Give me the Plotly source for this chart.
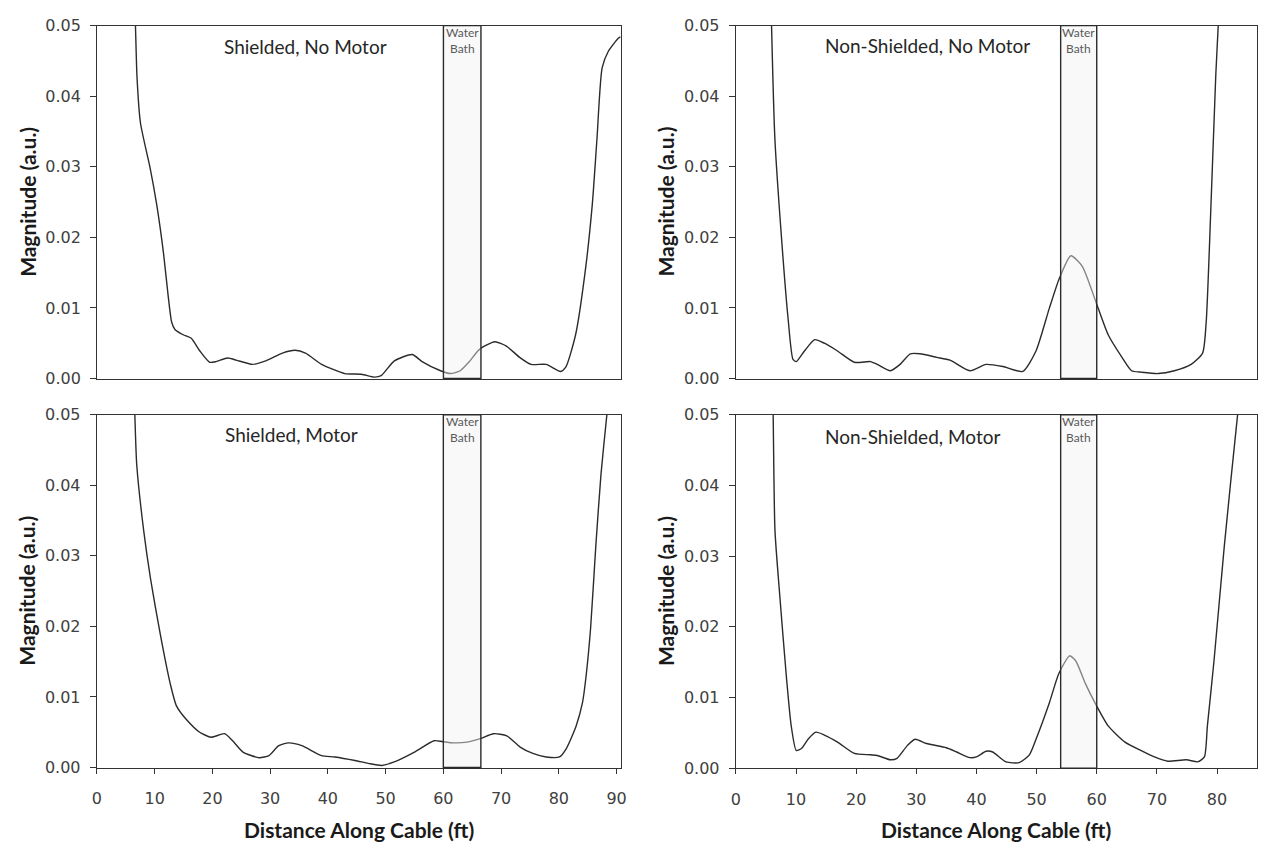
import plotly.graph_objects as go

# ---- measured reflection magnitude along the cable (distance in ft, magnitude in a.u.) ----
shielded_no_motor_x = [6.3, 6.63, 6.9, 7.5, 9.2, 10.3, 11.5, 12.3, 12.9, 13.5, 14.9, 16.3, 17.8, 19.5,
                       20.6, 22.6, 24.1, 26.9, 29.2, 32.1, 34.3, 36.1, 38.9, 42.9, 45.8, 48.1, 49.2,
                       51.5, 54.6, 56.3, 59.5, 61.2, 62.9, 64.6, 66.2, 68.9, 70.9, 73.2, 75.2, 77.8,
                       80.3, 81.2, 82.9, 84.6, 85.8, 86.6, 87.5, 88.6, 90.3, 90.7]
shielded_no_motor_y = [0.058, 0.050, 0.0427, 0.0362, 0.0297, 0.0247, 0.0177, 0.0117, 0.0080, 0.0069,
                       0.0062, 0.0057, 0.0039, 0.0023, 0.0024, 0.0029, 0.0026, 0.0020, 0.0025, 0.0036,
                       0.0040, 0.0036, 0.0020, 0.0007, 0.0006, 0.0002, 0.0004, 0.0025, 0.0034, 0.0024,
                       0.0011, 0.0007, 0.0011, 0.0025, 0.0041, 0.0052, 0.0046, 0.0030, 0.0020, 0.0020,
                       0.0010, 0.0016, 0.0062, 0.0154, 0.0247, 0.0339, 0.0440, 0.0464, 0.0482, 0.0484]

nonshielded_no_motor_x = [5.7, 5.93, 6.49, 7.58, 8.68, 9.5, 10.05, 11.4, 13.1, 14.7, 16.9, 19.7, 22.4,
                          23.5, 25.7, 27.3, 29.0, 30.6, 33.4, 35.6, 38.9, 41.6, 44.4, 47.7, 49.9, 52.1,
                          53.7, 55.7, 57.6, 59.8, 61.9, 64.2, 65.8, 67.4, 70.2, 72.9, 75.7, 77.6, 78.2,
                          79.0, 79.8, 80.2, 80.4]
nonshielded_no_motor_y = [0.060, 0.050, 0.0339, 0.0200, 0.0085, 0.0027, 0.0024, 0.0039, 0.0055, 0.0050,
                          0.0039, 0.0023, 0.0024, 0.0020, 0.0011, 0.0020, 0.0035, 0.0035, 0.0030, 0.0026,
                          0.0011, 0.0020, 0.0017, 0.0010, 0.0039, 0.0099, 0.0140, 0.0174, 0.0159, 0.0110,
                          0.0062, 0.0030, 0.0011, 0.0009, 0.0007, 0.0011, 0.0020, 0.0036, 0.0080, 0.0247,
                          0.0431, 0.0500, 0.056]

shielded_motor_x = [6.3, 6.57, 6.9, 8.1, 9.3, 11.0, 12.7, 13.8, 15.5, 17.8, 19.8, 22.1, 23.5, 25.3, 28.1,
                    29.8, 31.5, 33.2, 35.5, 38.9, 41.2, 44.7, 47.0, 49.3, 51.5, 55.0, 58.4, 59.8, 61.8,
                    64.1, 66.4, 68.7, 71.0, 73.3, 75.5, 77.8, 80.1, 81.3, 83.0, 84.1, 84.7, 85.5, 86.4,
                    87.3, 88.3, 88.6]
shielded_motor_y = [0.057, 0.050, 0.0429, 0.0336, 0.0267, 0.0188, 0.0119, 0.0087, 0.0068, 0.0050, 0.0043,
                    0.0048, 0.0038, 0.0022, 0.0014, 0.0017, 0.0031, 0.0035, 0.0031, 0.0017, 0.0015,
                    0.0010, 0.0006, 0.0003, 0.0008, 0.0022, 0.0038, 0.0037, 0.0035, 0.0036, 0.0041,
                    0.0048, 0.0045, 0.0029, 0.0020, 0.0015, 0.0015, 0.0027, 0.0059, 0.0092, 0.0128,
                    0.0197, 0.0313, 0.0415, 0.0498, 0.052]

nonshielded_motor_x = [6.0, 6.2, 6.5, 7.3, 8.4, 9.2, 10.05, 10.9, 12.0, 13.3, 14.7, 16.9, 19.7, 22.4,
                       23.5, 25.7, 26.8, 28.5, 29.8, 31.7, 35.0, 36.7, 38.9, 40.0, 41.6, 42.7, 44.9,
                       47.1, 48.8, 49.9, 52.1, 53.7, 55.5, 56.5, 58.1, 59.8, 61.9, 64.7, 67.4, 69.6,
                       71.8, 74.9, 76.8, 77.9, 78.4, 79.5, 81.2, 83.4, 83.6]
nonshielded_motor_y = [0.060, 0.050, 0.0336, 0.0244, 0.0129, 0.0060, 0.0025, 0.0028, 0.0041, 0.0051,
                       0.0047, 0.0037, 0.0021, 0.0019, 0.0018, 0.0012, 0.0014, 0.0032, 0.0041, 0.0035,
                       0.0029, 0.0023, 0.0015, 0.0016, 0.0024, 0.0023, 0.0009, 0.0008, 0.0019, 0.0041,
                       0.0092, 0.0134, 0.0159, 0.0152, 0.0120, 0.0091, 0.0060, 0.0037, 0.0025, 0.0016,
                       0.0010, 0.0012, 0.0009, 0.0016, 0.0060, 0.0152, 0.0313, 0.0498, 0.051]

panel_titles = ["Shielded, No Motor", "Non-Shielded, No Motor", "Shielded, Motor", "Non-Shielded, Motor"]
water_bath_shielded = [60, 66.5]
water_bath_nonshielded = [54, 60]
x_max_shielded = 90.7
x_max_nonshielded = 86.6
y_ticks = [0.00, 0.01, 0.02, 0.03, 0.04, 0.05]
x_ticks_shielded = [0, 10, 20, 30, 40, 50, 60, 70, 80, 90]
x_ticks_nonshielded = [0, 10, 20, 30, 40, 50, 60, 70, 80]

W, H = 1264, 846
FONT = "Lato"
TICK_FONT = "DejaVu Sans"
AXIS_COLOR = "#333333"


def fx(px):
    return px / W


def fy(py):
    return 1 - py / H


# panel boxes in pixels: (left, right, top, bottom)
boxes = [
    (93, 621, 17, 378),
    (737.3, 1262.7, 17, 378),
    (92.7, 621, 415, 776),
    (737.3, 1262.7, 415, 776.7),
]
series = [
    (shielded_no_motor_x, shielded_no_motor_y),
    (nonshielded_no_motor_x, nonshielded_no_motor_y),
    (shielded_motor_x, shielded_motor_y),
    (nonshielded_motor_x, nonshielded_motor_y),
]
baths = [water_bath_shielded, water_bath_nonshielded, water_bath_shielded, water_bath_nonshielded]
xmaxes = [x_max_shielded, x_max_nonshielded, x_max_shielded, x_max_nonshielded]
xticks = [x_ticks_shielded, x_ticks_nonshielded, x_ticks_shielded, x_ticks_nonshielded]

fig = go.Figure()
layout = dict(
    width=W, height=H,
    margin=dict(l=0, r=0, t=0, b=0),
    paper_bgcolor="white", plot_bgcolor="white",
    showlegend=False,
    font=dict(family=FONT, color="#222222"),
    shapes=[], annotations=[],
)

for i in range(4):
    n = "" if i == 0 else str(i + 1)
    left, right, top, bottom = boxes[i]
    xs, ys = series[i]
    fig.add_trace(go.Scatter(
        x=xs, y=ys, mode="lines", xaxis="x" + n, yaxis="y" + n,
        line=dict(color="#2b2b2b", width=1.4, shape="spline", smoothing=0.6),
        hoverinfo="skip",
    ))
    bottom_row = i >= 2
    layout["xaxis" + n] = dict(
        domain=[fx(left), fx(right)], anchor="y" + n,
        range=[0, xmaxes[i]], tickvals=xticks[i] if bottom_row else [],
        showticklabels=bottom_row, ticks="outside" if bottom_row else "",
        ticklen=5, tickcolor=AXIS_COLOR, tickwidth=1.3,
        tickfont=dict(family=TICK_FONT, size=16, color="#404040"),
        ticklabelstandoff=11,
        showline=True, linecolor=AXIS_COLOR, linewidth=1.3, mirror=True,
        showgrid=False, zeroline=False, fixedrange=True,
    )
    layout["yaxis" + n] = dict(
        domain=[fy(bottom), fy(top)], anchor="x" + n,
        range=[0, 0.05], tickvals=y_ticks, tickformat=".2f",
        ticks="outside", ticklen=6, tickcolor=AXIS_COLOR, tickwidth=1.3,
        tickfont=dict(family=TICK_FONT, size=16, color="#404040"),
        ticklabelstandoff=6,
        showline=True, linecolor=AXIS_COLOR, linewidth=1.3, mirror=True,
        showgrid=False, zeroline=False, fixedrange=True,
    )
    # water bath region, drawn over the trace so the curve is muted inside it
    b0, b1 = baths[i]
    layout["shapes"].append(dict(
        type="rect", xref="x" + n, yref="y" + n + " domain",
        x0=b0, x1=b1, y0=0, y1=1, layer="above",
        fillcolor="rgba(242,242,242,0.45)",
        line=dict(color="#2b2b2b", width=1.4),
    ))
    layout["annotations"].append(dict(
        xref="x" + n, yref="paper", x=(b0 + b1) / 2, y=fy(top + 15),
        text="Water<br>Bath", showarrow=False, xanchor="center", yanchor="middle",
        font=dict(family=FONT, size=12, color="#595959"),
    ))
    # y-axis title
    layout["annotations"].append(dict(
        xref="paper", yref="paper", x=fx(left - 71), y=fy((top + bottom) / 2),
        text="<b>Magnitude (a.u.)</b>", textangle=-90, showarrow=False,
        xanchor="center", yanchor="middle",
        font=dict(family=FONT, size=21, color="#1a1a1a"),
    ))
    if bottom_row:
        layout["annotations"].append(dict(
            xref="paper", yref="paper", x=fx((left + right) / 2), y=fy(839),
            text="<b>Distance Along Cable (ft)</b>", showarrow=False,
            xanchor="center", yanchor="middle",
            font=dict(family=FONT, size=21, color="#1a1a1a"),
        ))

# panel labels
label_pos = [(303, 38), (930.5, 37), (289, 435), (915.7, 437)]
for (cx, cy), t in zip(label_pos, panel_titles):
    layout["annotations"].append(dict(
        xref="paper", yref="paper", x=fx(cx), y=fy(cy), text=t, showarrow=False,
        xanchor="center", yanchor="middle",
        font=dict(family=FONT, size=19, color="#262626"),
    ))

fig.update_layout(**layout)
fig.write_html("out.html")
